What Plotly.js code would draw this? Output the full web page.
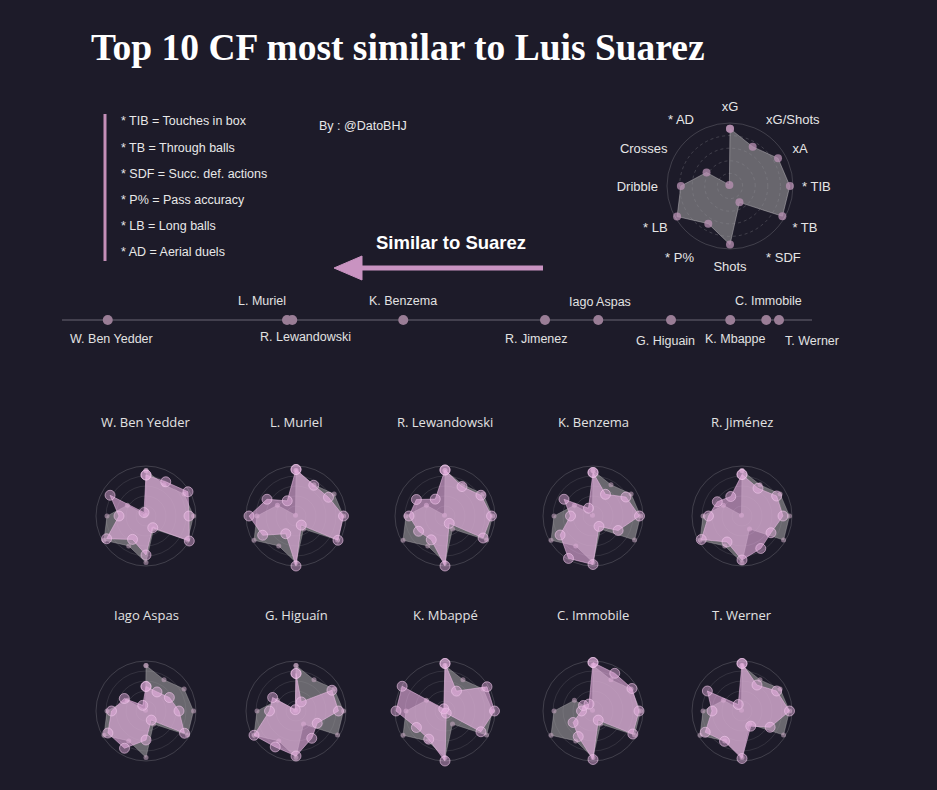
<!DOCTYPE html>
<html>
<head>
<meta charset="utf-8">
<script src="https://cdn.plot.ly/plotly-3.0.1.min.js"></script>
<style>html,body{margin:0;padding:0;background:#1d1b29;}#chart{width:937px;height:790px;}</style>
</head>
<body>
<div id="chart"></div>
<script>
// ---------- DATA ----------
const categories = ['xG','xG/Shots','xA','* TIB','* TB','* SDF','Shots','* P%','* LB','Dribble','Crosses','* AD'];
const suarez      = [0.91,0.72,0.88,0.95,0.96,0.30,0.93,0.69,0.97,0.78,0.43,0.02];
const benYedder   = [0.82,0.79,0.97,0.86,1.00,0.27,0.78,0.54,0.91,0.54,0.83,0.08];
const muriel      = [0.93,0.71,0.75,0.95,0.97,0.21,1.00,0.41,0.77,0.94,0.67,0.35];
const lewandowski = [0.92,0.68,0.83,0.93,0.88,0.17,1.00,0.55,0.61,0.72,0.66,0.39];
const benzema     = [0.87,0.50,0.76,0.93,0.58,0.24,0.97,0.98,0.76,0.45,0.67,0.18];
const jimenez     = [0.83,0.64,0.80,0.82,0.67,0.75,0.88,0.60,0.94,0.67,0.57,0.45];
const aspas       = [0.49,0.44,0.54,0.66,0.89,0.21,0.58,0.86,0.88,0.69,0.50,0.13];
const higuain     = [0.75,0.21,0.83,0.85,0.49,0.63,0.90,0.83,0.97,0.53,0.54,0.03];
const mbappe      = [0.95,0.46,0.97,0.99,0.83,0.05,1.00,0.65,0.66,0.98,0.99,0.05];
const immobile    = [0.97,0.87,0.90,0.92,0.92,0.21,0.97,0.59,0.46,0.23,0.22,0.16];
const werner      = [0.95,0.60,0.80,0.95,0.65,0.35,0.95,0.70,0.85,0.60,0.80,0.15];

const playerTitles = ['W. Ben Yedder','L. Muriel','R. Lewandowski','K. Benzema','R. Jiménez',
                      'Iago Aspas','G. Higuaín','K. Mbappé','C. Immobile','T. Werner'];
const playerValues = [benYedder, muriel, lewandowski, benzema, jimenez, aspas, higuain, mbappe, immobile, werner];

// similarity scale (distance to Suarez, arbitrary units)
const scaleLabels = ['W. Ben Yedder','L. Muriel','R. Lewandowski','K. Benzema','R. Jimenez',
                     'Iago Aspas','G. Higuain','K. Mbappe','C. Immobile','T. Werner'];
const distance    = [6.1, 30.0, 30.7, 45.5, 64.4, 71.5, 81.2, 89.1, 93.9, 95.6];

const legendLines = ['* TIB = Touches in box','* TB = Through balls','* SDF = Succ. def. actions',
                     '* P% = Pass accuracy','* LB = Long balls','* AD = Aerial duels'];

// ---------- LAYOUT HELPERS ----------
const W = 937, H = 790;
const px = x => x / W;
const py = y => 1 - y / H;
const BG = '#1d1b29';

function closeLoop(arr){ return arr.concat([arr[0]]); }

function polarLayout(cx, cy, R, big){
  return {
    domain: {x:[px(cx-R), px(cx+R)], y:[py(cy+R), py(cy-R)]},
    bgcolor: 'rgba(0,0,0,0)',
    radialaxis: {range:[0,1], showticklabels:false, ticks:'', showline:false, dtick:0.2,
                 gridcolor: big ? 'rgba(255,255,255,0.16)' : 'rgba(255,255,255,0.10)',
                 griddash: big ? 'dot' : 'solid'},
    angularaxis: {type:'category', categoryarray:categories, rotation:90, direction:'clockwise',
                  showgrid:false, showline:true, linecolor:'rgba(255,255,255,0.16)',
                  ticks: big ? 'outside' : '', ticklen: big ? 6 : 0, tickcolor:'rgba(0,0,0,0)',
                  showticklabels: big,
                  tickfont:{family:'Liberation Sans, Arial, sans-serif', size:13, color:'#e6e6e6'}}
  };
}

const traces = [];
const layout = {
  width: W, height: H,
  margin: {l:0, r:0, t:0, b:0},
  paper_bgcolor: BG, plot_bgcolor: BG,
  showlegend: false,
  annotations: [], shapes: []
};

// Big Suarez chart
layout.polar = polarLayout(730, 186, 63, true);
traces.push({
  type:'scatterpolar', subplot:'polar',
  r: closeLoop(suarez), theta: closeLoop(categories),
  mode:'lines+markers', fill:'toself',
  fillcolor:'rgba(150,148,152,0.62)',
  line:{color:'rgba(200,195,200,0.45)', width:1},
  marker:{size:8, color:'rgba(185,145,180,0.75)'},
  hoverinfo:'skip'
});

// Small charts
const colX = [146, 296, 445, 593, 742];
const rowY = [516, 711];
const titleY = [422, 615];
for (let i = 0; i < playerValues.length; i++){
  const cx = colX[i % 5], cy = rowY[Math.floor(i / 5)];
  const sp = 'polar' + (i + 2);
  layout[sp] = polarLayout(cx, cy, 50, false);
  traces.push({
    type:'scatterpolar', subplot:sp,
    r: closeLoop(suarez), theta: closeLoop(categories),
    mode:'lines+markers', fill:'toself',
    fillcolor:'rgba(160,158,160,0.58)',
    line:{color:'rgba(190,185,190,0.35)', width:1},
    marker:{size:5, color:'rgba(190,160,185,0.6)'},
    hoverinfo:'skip'
  });
  traces.push({
    type:'scatterpolar', subplot:sp,
    r: closeLoop(playerValues[i]), theta: closeLoop(categories),
    mode:'lines+markers', fill:'toself',
    fillcolor:'rgba(230,175,225,0.62)',
    line:{color:'rgba(235,190,230,0.55)', width:1},
    marker:{size:10, color:'rgba(230,175,225,0.45)', line:{color:'rgba(240,200,235,0.6)', width:1}},
    hoverinfo:'skip'
  });
  layout.annotations.push({
    xref:'paper', yref:'paper', x:px(cx), y:py(titleY[Math.floor(i / 5)]),
    xanchor:'center', yanchor:'middle', showarrow:false,
    text: playerTitles[i],
    font:{family:'Open Sans, sans-serif', size:13, color:'#e2e2e2'}
  });
}

// Similarity scale
layout.xaxis = {domain:[px(62), px(812)], range:[0,100], visible:false, fixedrange:true};
layout.yaxis = {domain:[py(340), py(300)], range:[-1,1], visible:false, fixedrange:true};
layout.shapes.push({type:'line', xref:'paper', yref:'y', x0:px(62), x1:px(812), y0:0, y1:0,
                    line:{color:'rgba(170,165,180,0.55)', width:1}, layer:'below'});
traces.push({
  type:'scatter', x: distance, y: distance.map(() => 0), xaxis:'x', yaxis:'y',
  mode:'markers', marker:{size:10, color:'#9a7d96'}, hoverinfo:'skip'
});
const labelShift = [4, -25, 13, 0, -9, 2, -6, 5, 2, 33];
const labelDy    = [-19, 19, -17, 19, -19, 18, -21, -19, 19, -21];
scaleLabels.forEach((name, i) => {
  layout.annotations.push({
    xref:'x', yref:'y', x:distance[i], y:0, xshift:labelShift[i], yshift:labelDy[i],
    xanchor:'center', yanchor:'middle', showarrow:false, text:name,
    font:{family:'Liberation Sans, Arial, sans-serif', size:12.5, color:'#e2e2e2'}
  });
});

// Title
layout.annotations.push({
  xref:'paper', yref:'paper', x:px(89), y:py(48), xanchor:'left', yanchor:'middle', showarrow:false,
  text:'<b>Top 10 CF most similar to Luis Suarez</b>',
  font:{family:'Liberation Serif, Times New Roman, serif', size:37.5, color:'#ffffff'}
});
// Glossary
const legendY = [121, 148, 174, 200, 226, 252];
legendLines.forEach((t, i) => {
  layout.annotations.push({
    xref:'paper', yref:'paper', x:px(119), y:py(legendY[i]), xanchor:'left', yanchor:'middle',
    showarrow:false, text:t,
    font:{family:'Liberation Sans, Arial, sans-serif', size:12.5, color:'#e8e8e8'}
  });
});
layout.shapes.push({type:'line', xref:'paper', yref:'paper', x0:px(105), x1:px(105), y0:py(114), y1:py(261),
                    line:{color:'#c48fb8', width:3}});
// Credit
layout.annotations.push({
  xref:'paper', yref:'paper', x:px(363), y:py(126), xanchor:'center', yanchor:'middle', showarrow:false,
  text:'By : @DatoBHJ', font:{family:'Liberation Sans, Arial, sans-serif', size:12.5, color:'#e8e8e8'}
});
// Arrow
layout.annotations.push({
  xref:'paper', yref:'paper', x:px(451), y:py(242), xanchor:'center', yanchor:'middle', showarrow:false,
  text:'<b>Similar to Suarez</b>', font:{family:'Liberation Sans, Arial, sans-serif', size:18.5, color:'#ffffff'}
});
layout.shapes.push({type:'line', xref:'paper', yref:'paper', x0:px(358), x1:px(543), y0:py(268), y1:py(268),
                    line:{color:'#c993c1', width:5}});
layout.shapes.push({type:'path', xref:'paper', yref:'paper',
  path:`M ${px(334)},${py(268)} L ${px(362)},${py(256)} L ${px(362)},${py(280)} Z`,
  fillcolor:'#c993c1', line:{color:'#c993c1', width:1}});

Plotly.newPlot('chart', traces, layout, {displayModeBar:false, staticPlot:true});
</script>
</body>
</html>
